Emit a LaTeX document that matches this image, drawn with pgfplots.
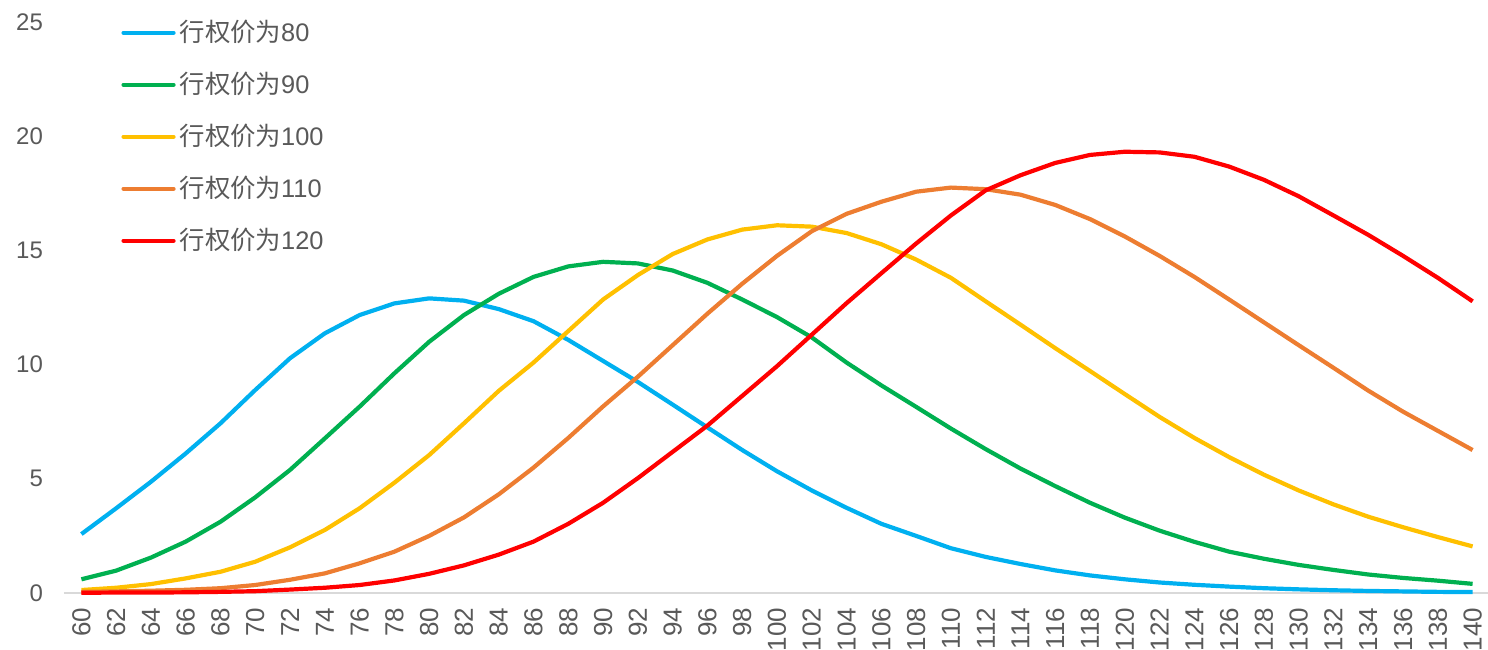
\documentclass[border=0pt]{standalone}
\usepackage{pgfplots}
\pgfplotsset{compat=1.18}
\usepackage{pgfplotstable}
\usepackage{fontspec}
\setmainfont{Liberation Sans}
\newfontfamily\cjk{Noto Sans CJK SC}
\definecolor{cBlue}{HTML}{00B0F0}
\definecolor{cGreen}{HTML}{00B050}
\definecolor{cYellow}{HTML}{FFC000}
\definecolor{cOrange}{HTML}{ED7D31}
\definecolor{cRed}{HTML}{FF0000}
\definecolor{txt}{HTML}{595959}
\definecolor{axisgrey}{HTML}{D9D9D9}
\pgfplotstableread{
x a b c d e
60 2.58 0.60 0.13 0.05 0.01
62 3.71 0.98 0.23 0.07 0.02
64 4.87 1.55 0.39 0.10 0.02
66 6.11 2.25 0.64 0.14 0.03
68 7.43 3.12 0.93 0.21 0.05
70 8.89 4.19 1.37 0.35 0.08
72 10.28 5.39 2.00 0.58 0.15
74 11.37 6.77 2.76 0.86 0.23
76 12.17 8.16 3.71 1.30 0.35
78 12.68 9.62 4.83 1.81 0.55
80 12.90 11.00 6.04 2.50 0.84
82 12.80 12.17 7.43 3.31 1.21
84 12.43 13.10 8.85 4.32 1.68
86 11.90 13.84 10.09 5.49 2.25
88 11.08 14.30 11.47 6.79 3.03
90 10.16 14.50 12.85 8.17 3.95
92 9.24 14.43 13.92 9.47 5.03
94 8.25 14.12 14.84 10.85 6.18
96 7.25 13.58 15.48 12.23 7.33
98 6.26 12.85 15.91 13.54 8.63
100 5.33 12.08 16.10 14.76 9.93
102 4.49 11.19 16.04 15.84 11.31
104 3.73 10.09 15.76 16.60 12.69
106 3.03 9.09 15.27 17.13 14.00
108 2.50 8.15 14.60 17.57 15.30
110 1.96 7.20 13.80 17.75 16.53
112 1.58 6.30 12.77 17.68 17.63
114 1.27 5.45 11.75 17.44 18.29
116 0.99 4.68 10.72 16.99 18.83
118 0.77 3.95 9.72 16.37 19.18
120 0.60 3.30 8.71 15.61 19.32
122 0.46 2.73 7.71 14.76 19.29
124 0.36 2.24 6.79 13.84 19.10
126 0.28 1.81 5.95 12.85 18.67
128 0.21 1.50 5.18 11.85 18.09
130 0.16 1.23 4.49 10.85 17.37
132 0.12 1.01 3.88 9.86 16.53
134 0.09 0.81 3.34 8.86 15.68
136 0.07 0.66 2.88 7.94 14.76
138 0.05 0.54 2.45 7.10 13.80
140 0.04 0.40 2.04 6.26 12.77
}\data
\begin{document}
\begin{tikzpicture}
\begin{axis}[
  scale only axis,
  width=713pt, height=285.5pt,
  xmin=59, xmax=141, ymin=0, ymax=25,
  clip=false,
  axis x line*=bottom, axis y line*=left,
  x axis line style={-, draw=axisgrey, line width=0.8pt},
  y axis line style={draw=none},
  major tick length=0pt,
  xtick={60,62,...,140},
  ytick={0,5,...,25},
  /pgf/number format/assume math mode=true,
  yticklabel style={font=\fontsize{12}{14}\selectfont, text=txt, xshift=-7pt},
  xticklabel style={font=\fontsize{13}{15}\selectfont, text=txt, rotate=90, anchor=east},
  xticklabel shift=4pt,
  legend cell align=left,
  legend style={draw=none, fill=none, at={(0.04,1.0103)}, anchor=north west,
    font=\fontsize{12.7}{15}\selectfont, text=txt, row sep=9.8pt,
    inner sep=0pt},
  legend image code/.code={\draw[#1, line cap=round] (0pt,0pt) -- (25pt,0pt);},
  every axis plot/.append style={line width=2.1pt, line join=round, mark=none},
]
\addplot[cBlue] table[x=x,y=a]{\data};
\addlegendentry{{\cjk 行权价为}80}
\addplot[cGreen] table[x=x,y=b]{\data};
\addlegendentry{{\cjk 行权价为}90}
\addplot[cYellow] table[x=x,y=c]{\data};
\addlegendentry{{\cjk 行权价为}100}
\addplot[cOrange] table[x=x,y=d]{\data};
\addlegendentry{{\cjk 行权价为}110}
\addplot[cRed] table[x=x,y=e]{\data};
\addlegendentry{{\cjk 行权价为}120}
\end{axis}
\pgfresetboundingbox
\path[use as bounding box] ([shift={(-32pt,-28pt)}]current axis.south west) rectangle ([shift={(-1pt,11pt)}]current axis.north east);
\end{tikzpicture}
\end{document}
